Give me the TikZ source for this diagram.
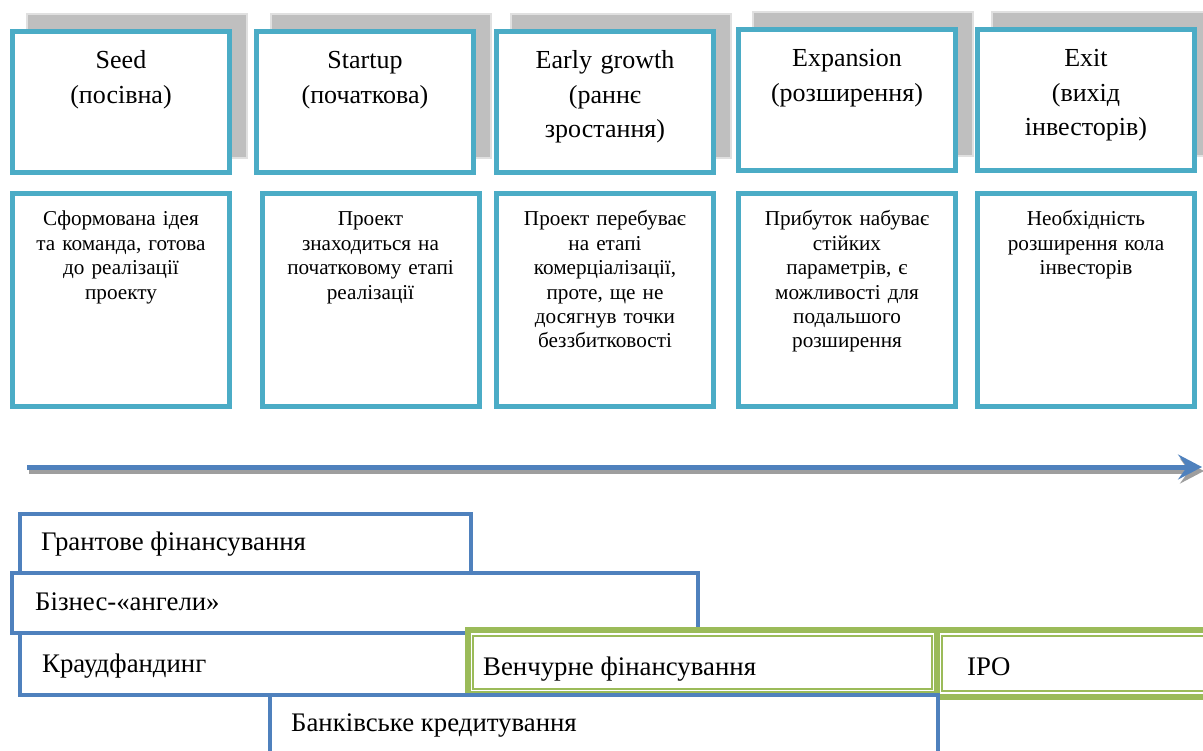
\documentclass[tikz,border=0pt]{standalone}
\usepackage{fontspec}
\setmainfont{Liberation Serif}
\usetikzlibrary{arrows.meta}
\definecolor{stageteal}{HTML}{4BACC6}
\definecolor{fundblue}{HTML}{4F81BD}
\definecolor{ventgreen}{HTML}{9BBB59}
\definecolor{shadowgray}{HTML}{BFBFBF}
\tikzset{
  shadowbox/.style={draw=black!12, line width=1.5pt, fill=shadowgray,
    minimum width=220pt, minimum height=144pt, inner sep=0pt},
  stagebox/.style={draw=stageteal, line width=5pt, fill=white,
    minimum width=217pt, minimum height=141pt, inner sep=0pt},
  descbox/.style={stagebox, minimum height=213pt},
  stagetext/.style={anchor=base, text width=210pt, align=center, inner sep=0pt,
    font=\fontsize{26}{34.5}\selectfont},
  desctext/.style={anchor=base, text width=210pt, align=center, inner sep=0pt,
    font=\fontsize{21.2}{24.4}\selectfont},
  fundbox/.style={draw=fundblue, line width=4pt, fill=white, inner sep=0pt},
  ventbox/.style={draw=ventgreen, line width=6pt, fill=white, inner sep=0pt},
  ventinner/.style={draw=ventgreen, line width=1.5pt},
  fundtext/.style={anchor=base west, inner sep=0pt, font=\fontsize{26.8}{30}\selectfont},
  timeline/.style={line width=5pt, -{Stealth[length=24pt,width=25pt,inset=9pt]}}
}
\begin{document}
\begin{tikzpicture}[x=1pt,y=-1pt]
  \useasboundingbox (0,0) rectangle (1203,751);
  % stages
  \node[shadowbox] (sh1) at (137,86) {};
  \node[shadowbox] (sh2) at (381,86) {};
  \node[shadowbox] (sh3) at (621,86) {};
  \node[shadowbox] (sh4) at (863,84) {};
  \node[shadowbox] (sh5) at (1102,84) {};
  \node[stagebox] (s1) at (121,102) {};
  \node[stagebox] (s2) at (365,102) {};
  \node[stagebox] (s3) at (605,102) {};
  \node[stagebox] (s4) at (847,100) {};
  \node[stagebox] (s5) at (1086,100) {};
  \node[stagetext] (s1t) at ([yshift=-40pt]s1.north) {Seed\\(посівна)};
  \node[stagetext] (s2t) at ([yshift=-40pt]s2.north) {Startup\\(початкова)};
  \node[stagetext] (s3t) at ([yshift=-40pt]s3.north) {Early growth\\(раннє\\зростання)};
  \node[stagetext] (s4t) at ([yshift=-40pt]s4.north) {Expansion\\(розширення)};
  \node[stagetext] (s5t) at ([yshift=-40pt]s5.north) {Exit\\(вихід\\інвесторів)};
  % descriptions
  \node[descbox] (d1) at (121,300) {};
  \node[descbox] (d2) at (370.5,300) {};
  \node[descbox] (d3) at (605,300) {};
  \node[descbox] (d4) at (847,300) {};
  \node[descbox] (d5) at (1086,300) {};
  \node[desctext] (d1t) at ([yshift=-35pt]d1.north)
    {Сформована ідея\\та команда, готова\\до реалізації\\проекту};
  \node[desctext] (d2t) at ([yshift=-35pt]d2.north)
    {Проект\\знаходиться на\\початковому етапі\\реалізації};
  \node[desctext] (d3t) at ([yshift=-35pt]d3.north)
    {Проект перебуває\\на етапі\\комерціалізації,\\проте, ще не\\досягнув точки\\беззбитковості};
  \node[desctext] (d4t) at ([yshift=-35pt]d4.north)
    {Прибуток набуває\\стійких\\параметрів, є\\можливості для\\подальшого\\розширення};
  \node[desctext] (d5t) at ([yshift=-35pt]d5.north)
    {Необхідність\\розширення кола\\інвесторів};
  % time axis
  \coordinate (ax0) at (27,467);
  \coordinate (ax1) at (1202,467);
  \draw[timeline, draw=black!38, fill=black!38] ([shift={(2,4)}]ax0) -- ([shift={(2,4)}]ax1);
  \draw[timeline, draw=fundblue, fill=fundblue] (ax0) -- (ax1);
  % financing
  \node[fundbox, minimum width=451pt, minimum height=59pt] (grant) at (245.5,543.5) {};
  \node[fundbox, minimum width=686pt, minimum height=60pt] (angels) at (355,603) {};
  \node[fundbox, minimum width=678pt, minimum height=62pt] (crowd) at (359,664) {};
  \node[ventbox, minimum width=469pt, minimum height=64pt] (vent) at (702.5,662) {};
  \draw[ventinner] ([shift={(8,9)}]vent.north west) rectangle ([shift={(-8,-8)}]vent.south east);
  \node[ventbox, minimum width=283pt, minimum height=67pt] (ipo) at (1078.5,663.5) {};
  \draw[ventinner] ([shift={(8,9)}]ipo.north west) rectangle ([shift={(-8,-9)}]ipo.south east);
  \node[fundbox, minimum width=668pt, minimum height=80pt] (bank) at (604,735) {};
  \node[fundtext] (grantt) at (41,550) {Грантове фінансування};
  \node[fundtext] (angelst) at (35,610) {Бізнес-«ангели»};
  \node[fundtext] (crowdt) at (42,672) {Краудфандинг};
  \node[fundtext] (ventt) at (483,675) {Венчурне фінансування};
  \node[fundtext] (ipot) at (967,675) {IPO};
  \node[fundtext] (bankt) at (291,731) {Банківське кредитування};
\end{tikzpicture}
\end{document}
